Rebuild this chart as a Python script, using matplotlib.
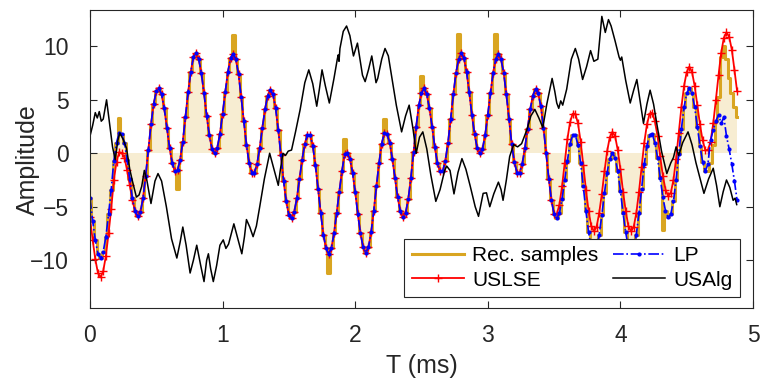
import numpy as np
import matplotlib
matplotlib.use("Agg")
import matplotlib.pyplot as plt

plt.rcParams["font.family"] = ["Liberation Sans", "DejaVu Sans"]

# sample times (ms), one value every 0.02 ms
t = np.round(np.arange(245) * 0.02, 2)

uslse = [
    -6.0, -8.1, -9.9, -11.2, -11.6, -11.0, -9.6, -7.5, -5.2, -2.5, -0.8, 0.1, 0.0, -0.4, -1.6, -3.0, -4.4, -5.4, -5.9, -5.5,
    -4.2, -2.1, 0.3, 2.7, 4.6, 5.8, 6.1, 5.5, 4.2, 2.4, 0.5, -0.9, -1.7, -1.6, -0.6, 1.1, 3.4, 5.7, 7.6, 9.0,
    9.4, 8.8, 7.5, 5.6, 3.5, 1.7, 0.4, 0.0, 0.5, 1.8, 3.7, 5.7, 7.6, 8.9, 9.3, 8.8, 7.4, 5.3, 3.0, 0.8,
    -0.9, -1.8, -1.8, -1.0, 0.5, 2.4, 4.1, 5.4, 5.9, 5.5, 4.2, 2.2, -0.2, -2.6, -4.5, -5.8, -6.1, -5.5, -4.2, -2.4,
    -0.6, 0.9, 1.7, 1.7, 0.7, -1.1, -3.3, -5.6, -7.6, -8.9, -9.4, -8.9, -7.5, -5.6, -3.6, -1.7, -0.1, 0.0, -0.5, -1.8,
    -3.6, -5.7, -7.5, -8.8, -9.3, -8.8, -7.4, -5.4, -3.1, -0.9, 0.9, 1.9, 1.8, 1.0, -0.5, -2.3, -4.1, -5.4, -6.0, -5.6,
    -4.3, -2.3, 0.1, 2.5, 4.5, 5.6, 6.1, 5.5, 4.2, 2.5, 0.6, -0.9, -1.7, -1.7, -0.7, 1.0, 3.2, 5.5, 7.5, 8.8,
    9.4, 8.9, 7.6, 5.7, 3.6, 1.8, 0.5, 0.0, 0.4, 1.7, 3.6, 5.6, 7.5, 8.8, 9.3, 8.8, 7.5, 5.5, 3.2, 0.9,
    -0.8, -1.8, -1.8, -1.0, 0.5, 2.3, 4.1, 5.4, 6.0, 5.6, 4.4, 2.4, 0.0, -2.4, -4.4, -5.7, -5.7, -4.8, -3.1, -0.9,
    1.3, 2.9, 3.7, 3.7, 2.8, 1.1, -1.1, -3.4, -5.4, -6.8, -7.3, -6.9, -5.6, -3.8, -1.7, 0.2, 1.5, 2.0, 1.6, 0.3,
    -1.5, -3.6, -5.4, -6.8, -7.3, -6.9, -5.6, -3.6, -1.3, 1.0, 2.7, 3.7, 3.8, 3.0, 1.6, -0.3, -2.1, -3.4, -4.0, -3.7,
    -2.5, -0.5, 1.9, 4.3, 6.3, 7.6, 8.1, 7.6, 6.3, 4.5, 2.7, 1.2, 0.3, 0.3, 1.1, 2.8, 5.0, 7.3, 9.4, 10.8,
    11.3, 10.9, 9.7, 7.8, 5.8,
]

lp = [
    -4.2, -6.3, -8.1, -9.4, -9.8, -9.2, -7.8, -5.7, -3.4, -0.7, 1.0, 1.9, 1.8, 1.0, -0.6, -2.4, -4.2, -5.4, -5.9, -5.5,
    -4.2, -2.1, 0.3, 2.7, 4.6, 5.8, 6.1, 5.5, 4.2, 2.4, 0.5, -0.9, -1.7, -1.6, -0.6, 1.1, 3.4, 5.7, 7.6, 9.0,
    9.4, 8.8, 7.5, 5.6, 3.5, 1.7, 0.4, 0.0, 0.5, 1.8, 3.7, 5.7, 7.6, 8.9, 9.3, 8.8, 7.4, 5.3, 3.0, 0.8,
    -0.9, -1.8, -1.8, -1.0, 0.5, 2.4, 4.1, 5.4, 5.9, 5.5, 4.2, 2.2, -0.2, -2.6, -4.5, -5.8, -6.1, -5.5, -4.2, -2.4,
    -0.6, 0.9, 1.7, 1.7, 0.7, -1.1, -3.3, -5.6, -7.6, -8.9, -9.4, -8.9, -7.5, -5.6, -3.6, -1.7, -0.1, 0.0, -0.5, -1.8,
    -3.6, -5.7, -7.5, -8.8, -9.3, -8.8, -7.4, -5.4, -3.1, -0.9, 0.9, 1.9, 1.8, 1.0, -0.5, -2.3, -4.1, -5.4, -6.0, -5.6,
    -4.3, -2.3, 0.1, 2.5, 4.5, 5.6, 6.1, 5.5, 4.2, 2.5, 0.6, -0.9, -1.7, -1.7, -0.7, 1.0, 3.2, 5.5, 7.5, 8.8,
    9.4, 8.9, 7.6, 5.7, 3.6, 1.8, 0.5, 0.0, 0.4, 1.7, 3.6, 5.6, 7.5, 8.8, 9.3, 8.8, 7.5, 5.5, 3.2, 0.9,
    -0.8, -1.8, -1.8, -1.0, 0.5, 2.3, 4.1, 5.4, 6.0, 5.6, 4.4, 2.4, 0.0, -2.4, -4.4, -5.7, -6.1, -5.6, -4.3, -2.5,
    -0.7, 0.9, 1.7, 1.7, 0.8, -0.9, -3.1, -5.4, -7.4, -8.8, -9.3, -8.9, -7.6, -5.8, -3.7, -1.8, -0.5, 0.0, -0.4, -1.7,
    -3.5, -5.6, -7.4, -8.8, -9.3, -8.9, -7.6, -5.6, -3.3, -1.0, 0.7, 1.7, 1.8, 1.0, -0.4, -2.3, -4.1, -5.4, -6.0, -5.7,
    -4.5, -2.5, -0.1, 2.3, 4.3, 5.6, 6.1, 5.6, 4.3, 2.5, 0.7, -0.8, -1.7, -1.0, 1.2, 2.2, 3.0, 3.6, 2.8, 3.4,
    1.6, 0.4, -1.0, -2.6, -4.4,
]

rec_samples = [
    -4.2, -6.3, -8.1, -9.4, -9.8, -9.2, -7.8, -5.7, -3.4, -0.7, 1.0, 3.3, 1.8, 1.0, -0.6, -2.4, -4.2, -5.4, -5.9, -5.5,
    -4.2, -2.1, 0.3, 2.7, 4.6, 5.8, 6.1, 5.5, 4.2, 2.4, 0.5, -0.9, -1.7, -3.3, -0.6, 1.1, 3.4, 5.7, 7.6, 9.0,
    9.4, 8.8, 7.5, 5.6, 3.5, 1.7, 0.4, 0.0, 0.5, 1.8, 3.7, 5.7, 7.6, 8.9, 11.1, 8.8, 7.4, 5.3, 3.0, 0.8,
    -0.9, -1.8, -1.8, -1.0, 0.5, 2.4, 4.1, 5.4, 5.9, 5.5, 4.2, 2.2, -0.2, -2.6, -4.5, -5.8, -6.1, -5.5, -4.2, -2.4,
    -0.6, 0.9, 1.7, 1.7, 0.7, -1.1, -3.3, -5.6, -7.6, -8.9, -11.2, -8.9, -7.5, -5.6, -3.6, -1.7, 1.3, 0.0, -0.5, -1.8,
    -3.6, -5.7, -7.5, -8.8, -9.3, -8.8, -7.4, -5.4, -3.1, -0.9, 0.9, 3.2, 1.8, 1.0, -0.5, -2.3, -4.1, -5.4, -6.0, -5.6,
    -4.3, -2.3, 0.1, 2.5, 4.5, 7.2, 6.1, 5.5, 4.2, 2.5, 0.6, -0.9, -1.7, -1.7, -0.7, 1.0, 3.2, 5.5, 7.5, 11.2,
    9.4, 8.9, 7.6, 5.7, 3.6, 1.8, 0.5, 0.0, 0.4, 1.7, 3.6, 5.6, 7.5, 11.2, 9.3, 8.8, 7.5, 5.5, 3.2, 0.9,
    -0.8, -1.8, -1.8, -1.0, 0.5, 2.3, 4.1, 5.4, 6.0, 5.6, 4.4, 2.4, 0.0, -2.4, -4.4, -5.7, -6.1, -5.6, -4.3, -2.5,
    -0.7, 0.9, 1.7, 1.7, 0.8, -0.9, -3.1, -5.4, -7.4, -8.8, -9.3, -8.9, -7.6, -5.8, -3.7, -1.8, -0.5, 0.0, -0.4, -1.7,
    -3.5, -5.6, -7.4, -8.8, -9.3, -8.9, -7.6, -5.6, -3.3, -1.0, 0.7, 1.7, 1.8, 1.0, -0.4, -2.3, -7.2, -5.4, -6.0, -5.7,
    -4.5, -2.5, -0.1, 2.3, 4.3, 5.6, 6.1, 5.6, 4.3, 2.5, 0.7, -0.8, -1.7, -1.7, -0.9, 0.8, 3.0, 5.3, 9.0, 10.0,
    8.8, 7.0, 5.6, 4.3, 3.4,
]

usalg_t = [
    0.000, 0.020, 0.040, 0.055, 0.070, 0.085, 0.100, 0.125, 0.150, 0.170, 0.190, 0.210, 0.225, 0.250, 0.275, 0.300,
    0.320, 0.350, 0.370, 0.390, 0.410, 0.430, 0.460, 0.490, 0.513, 0.540, 0.576, 0.615, 0.655, 0.680, 0.700, 0.725,
    0.755, 0.780, 0.805, 0.835, 0.860, 0.880, 0.893, 0.910, 0.930, 0.955, 0.980, 1.005, 1.025, 1.045, 1.085, 1.115,
    1.145, 1.165, 1.180, 1.205, 1.230, 1.255, 1.280, 1.315, 1.355, 1.385, 1.420, 1.435, 1.455, 1.475, 1.495, 1.520,
    1.550, 1.585, 1.620, 1.650, 1.680, 1.710, 1.730, 1.750, 1.775, 1.805, 1.840, 1.865, 1.872, 1.878, 1.885, 1.910,
    1.935, 1.960, 1.987, 2.017, 2.037, 2.055, 2.075, 2.100, 2.125, 2.145, 2.157, 2.170, 2.200, 2.225, 2.250, 2.275,
    2.310, 2.350, 2.380, 2.407, 2.437, 2.460, 2.485, 2.510, 2.540, 2.570, 2.608, 2.640, 2.675, 2.690, 2.715, 2.745,
    2.775, 2.805, 2.835, 2.868, 2.905, 2.930, 2.950, 2.965, 2.990, 3.015, 3.045, 3.080, 3.100, 3.115, 3.140, 3.165,
    3.195, 3.225, 3.255, 3.295, 3.325, 3.355, 3.385, 3.415, 3.445, 3.485, 3.505, 3.520, 3.535, 3.550, 3.565, 3.595,
    3.630, 3.660, 3.685, 3.715, 3.745, 3.775, 3.800, 3.830, 3.860, 3.886, 3.910, 3.930, 3.960, 3.990, 4.000, 4.010,
    4.040, 4.074, 4.100, 4.124, 4.150, 4.174, 4.200, 4.224, 4.250, 4.274, 4.310, 4.350, 4.380, 4.400, 4.420, 4.440,
    4.470, 4.510, 4.540, 4.570, 4.630, 4.665, 4.700, 4.725, 4.750, 4.775, 4.800, 4.825, 4.850, 4.865, 4.877,
]
usalg_v = [
    1.6, 2.6, 3.8, 3.3, 3.9, 3.0, 3.2, 5.0, 2.6, 0.6, -0.6, 1.2, 1.9, 1.3, 0.5, -1.5,
    -2.6, -4.1, -3.9, -3.1, -1.6, -2.6, -4.7, -2.6, -1.9, -2.6, -5.0, -8.0, -9.8, -8.3, -6.9, -8.6,
    -11.2, -10.0, -8.6, -10.5, -12.0, -10.0, -9.4, -10.8, -12.0, -10.5, -8.6, -8.1, -8.9, -8.5, -6.6, -8.0,
    -9.4, -7.8, -6.2, -6.9, -7.8, -6.8, -5.0, -2.4, 0.0, -1.4, -3.0, -1.6, 0.0, -0.2, 0.2, 0.3,
    2.0, 4.1, 6.6, 7.8, 6.5, 4.4, 6.0, 7.8, 6.3, 4.7, 7.0, 8.8, 9.2, 8.6, 9.8, 11.4,
    11.9, 11.0, 9.1, 10.3, 8.7, 7.3, 6.7, 7.8, 9.1, 7.6, 6.6, 7.0, 8.8, 9.8, 9.1, 7.2,
    4.5, 2.0, 3.5, 4.5, 2.2, 0.0, 1.5, 2.0, 0.4, -2.0, -4.5, -3.4, -1.6, -1.2, -1.6, -3.8,
    -1.8, -0.5, -1.5, -3.1, -5.0, -5.9, -4.7, -3.75, -3.7, -5.0, -3.8, -2.7, -3.4, -4.4, -2.5, -0.3,
    0.8, 0.6, 0.9, 2.2, 3.5, 4.1, 3.3, 2.4, 4.6, 7.0, 5.8, 4.7, 4.2, 4.9, 4.5, 6.0,
    8.8, 9.8, 8.8, 6.9, 8.1, 9.6, 8.6, 8.8, 12.8, 11.3, 12.5, 11.9, 10.5, 9.0, 8.7, 9.0,
    6.8, 4.7, 5.9, 6.9, 4.8, 2.8, 4.6, 5.9, 4.6, 2.8, 0.2, -1.9, -0.9, -0.4, 0.6, -0.2,
    1.0, 2.0, 0.8, -0.9, -3.75, -2.4, -1.4, -3.0, -5.0, -3.6, -2.5, -3.2, -4.4, -4.2, -4.8,
]

gold = "#D9A521"
axcol = "0.15"

fig, ax = plt.subplots(figsize=(7.6, 3.81), dpi=100)
fig.subplots_adjust(left=0.1184, right=0.9908, top=0.9738, bottom=0.1908)

ax.fill_between(t, rec_samples, 0, step="mid", color=gold, alpha=0.2, lw=0)
ax.plot(t, rec_samples, color=gold, lw=2.2, drawstyle="steps-mid", label="Rec. samples")
ax.plot(t, uslse, color="red", lw=1.3, marker="+", ms=6, mew=1.0, label="USLSE")
ax.plot(t, lp, color="blue", ls="-.", lw=1.2, marker=".", ms=4, label="LP")
ax.plot(usalg_t, usalg_v, color="black", lw=1.1, label="USAlg")

ax.set_xlim(0, 5)
ax.set_ylim(-14.5, 13.4)
ax.set_xticks([0, 1, 2, 3, 4, 5])
ax.set_yticks([-10, -5, 0, 5, 10])
ax.tick_params(direction="in", top=True, right=True, length=5, width=0.8,
               color=axcol, labelcolor="0.15", labelsize=16.5)
ax.tick_params(axis="x", pad=11)
ax.tick_params(axis="y", pad=15)
for s in ax.spines.values():
    s.set_color(axcol)
    s.set_linewidth(0.8)

ax.set_xlabel("T (ms)", fontsize=18, color="0.15", labelpad=5)
ax.set_ylabel("Amplitude", fontsize=18, color="0.15")
ax.yaxis.set_label_coords(-0.075, 0.5)

leg = ax.legend(ncol=2, fontsize=15, loc="lower right", bbox_to_anchor=(0.98, 0.038),
                borderaxespad=0, fancybox=False, framealpha=1, edgecolor=axcol,
                handlelength=2.5, columnspacing=0.7, labelspacing=0.25,
                borderpad=0.35, handletextpad=0.4)
leg.get_frame().set_linewidth(0.8)

fig.savefig("out.png")
